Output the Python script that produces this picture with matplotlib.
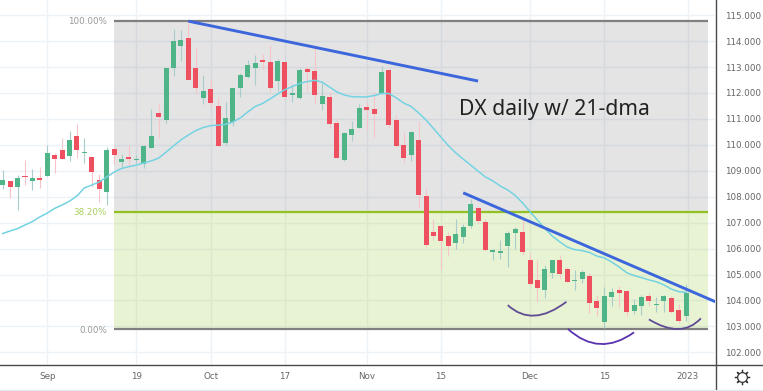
import matplotlib.pyplot as plt
from matplotlib.lines import Line2D
from matplotlib.patches import PathPatch
from matplotlib.path import Path

# daily DX bars, one entry per session
opens = [108.47, 108.59, 108.39, 108.81, 108.61, 108.73, 108.80, 109.61, 109.80, 109.58,
         110.33, 109.69, 109.52, 108.63, 108.20, 109.84, 109.33, 109.53, 109.40, 109.26,
         109.89, 111.23, 110.97, 112.98, 113.81, 114.12, 112.96, 111.79, 112.14, 111.51,
         110.06, 110.87, 112.19, 112.63, 112.98, 113.26, 113.18, 112.46, 113.18, 111.92,
         111.79, 112.91, 112.85, 111.59, 111.83, 110.86, 109.43, 110.38, 110.65, 111.45,
         111.37, 112.00, 112.87, 110.97, 109.98, 109.62, 110.19, 108.04, 106.65, 106.88,
         106.49, 106.20, 106.46, 106.87, 107.55, 107.03, 105.87, 105.84, 106.11, 106.59,
         106.65, 105.56, 104.78, 104.42, 105.07, 105.56, 105.23, 104.75, 104.83, 104.94,
         103.98, 103.18, 104.12, 104.40, 104.37, 103.61, 103.79, 104.19, 103.81, 103.98,
         104.08, 103.62, 103.40]
highs = [109.03, 108.62, 108.84, 109.42, 109.08, 109.13, 109.98, 109.67, 110.25, 110.53,
         110.79, 110.25, 109.52, 108.88, 109.90, 109.90, 109.63, 109.98, 109.61, 109.99,
         111.37, 111.58, 112.98, 114.45, 114.43, 114.75, 113.72, 112.69, 112.50, 111.83,
         111.67, 112.18, 112.76, 113.27, 113.46, 113.49, 113.85, 113.30, 113.18, 112.33,
         112.98, 113.04, 113.85, 112.37, 112.05, 111.02, 110.51, 110.93, 111.56, 111.67,
         112.03, 113.04, 112.95, 111.15, 110.51, 110.53, 110.88, 108.32, 107.13, 106.91,
         106.65, 107.13, 106.94, 107.90, 107.64, 107.13, 105.97, 106.33, 106.68, 106.85,
         107.10, 105.84, 105.56, 105.37, 105.56, 105.75, 105.30, 105.17, 105.17, 105.07,
         104.21, 104.51, 104.47, 104.56, 104.37, 104.04, 104.21, 104.27, 104.12, 104.21,
         104.19, 103.86, 104.64]
lows = [108.30, 107.94, 107.49, 108.45, 108.26, 108.32, 108.80, 108.93, 109.47, 109.37,
        109.49, 109.30, 108.39, 107.81, 107.68, 109.26, 109.16, 109.20, 109.29, 109.10,
        109.87, 110.25, 110.86, 112.66, 113.25, 112.49, 111.99, 111.56, 111.45, 109.97,
        109.99, 110.73, 111.86, 112.57, 112.31, 112.91, 112.05, 112.08, 111.86, 111.64,
        111.77, 112.08, 111.58, 111.34, 110.64, 109.48, 109.38, 110.15, 110.64, 110.57,
        110.28, 111.99, 110.64, 109.93, 109.29, 109.38, 107.62, 106.07, 106.33, 105.17,
        105.72, 105.97, 106.23, 106.81, 107.00, 105.92, 105.56, 105.60, 105.28, 105.98,
        105.75, 104.56, 103.95, 104.08, 104.85, 104.83, 104.73, 104.40, 104.66, 103.53,
        103.40, 102.92, 103.80, 103.76, 103.40, 103.48, 103.44, 103.80, 103.57, 103.57,
        103.53, 103.14, 103.22]
closes = [108.63, 108.39, 108.72, 108.77, 108.73, 108.65, 109.67, 109.47, 109.47, 110.19,
          109.82, 109.72, 108.95, 108.29, 109.80, 109.61, 109.46, 109.47, 109.46, 109.96,
          110.34, 111.07, 112.98, 114.00, 114.04, 112.49, 112.18, 112.06, 111.63, 109.97,
          111.02, 112.18, 112.68, 113.07, 113.14, 113.18, 112.21, 113.22, 111.86, 112.00,
          112.87, 112.81, 111.92, 111.88, 110.79, 109.51, 110.44, 110.60, 111.42, 111.36,
          111.20, 112.81, 110.77, 109.96, 109.51, 110.48, 108.05, 106.14, 106.50, 106.28,
          106.11, 106.58, 106.82, 107.72, 107.06, 105.93, 105.96, 105.91, 106.61, 106.74,
          105.87, 104.65, 104.47, 105.23, 105.55, 105.02, 104.73, 104.79, 105.09, 103.92,
          103.72, 104.19, 104.33, 104.29, 103.57, 103.84, 104.12, 103.98, 103.86, 104.19,
          103.57, 103.22, 104.29]
dma21 = [106.58, 106.68, 106.77, 106.91, 107.04, 107.22, 107.37, 107.55, 107.68, 107.83,
         108.03, 108.34, 108.45, 108.57, 108.76, 108.95, 109.09, 109.16, 109.22, 109.30,
         109.38, 109.49, 109.72, 109.96, 110.19, 110.38, 110.55, 110.67, 110.74, 110.76,
         110.79, 110.88, 111.04, 111.27, 111.48, 111.60, 111.77, 111.96, 112.13, 112.25,
         112.37, 112.44, 112.49, 112.42, 112.23, 112.04, 111.92, 111.86, 111.85, 111.85,
         111.90, 111.98, 111.98, 111.81, 111.61, 111.48, 111.23, 110.96, 110.63, 110.30,
         109.97, 109.69, 109.45, 109.22, 108.99, 108.76, 108.61, 108.41, 108.26, 108.05,
         107.76, 107.42, 107.10, 106.77, 106.48, 106.26, 106.06, 105.96, 105.92, 105.85,
         105.71, 105.64, 105.48, 105.29, 105.07, 104.96, 104.88, 104.79, 104.72, 104.60,
         104.44, 104.34, 104.31]

# x axis ticks sit on bar numbers
tick_bars = [6, 18, 28, 38, 49, 59, 71, 81, 92.2]
tick_names = ['Sep', '19', 'Oct', '17', 'Nov', '15', 'Dec', '15', '2023']
price_ticks = list(range(102, 116))

# fibonacci levels
fib_prices = [114.79, 107.42, 102.89]
fib_names = ['100.00%', '38.20%', '0.00%']
fib_start, fib_end = 15, 95

# hand drawn trend lines and arcs
trend1_bars, trend1_prices = [25, 64], [114.77, 112.46]
trend2_bars, trend2_prices = [62, 97], [108.15, 103.82]
arc1_bars, arc1_prices = [68.0, 71.3, 75.9], [103.82, 102.94, 103.95]
arc2_bars, arc2_prices = [76.1, 80.3, 85.0], [102.90, 101.80, 102.77]
arc3_bars, arc3_prices = [87.0, 91.4, 94.0], [103.27, 102.50, 103.31]

up_body, up_wick = '#4fb488', '#a9cdcd'
down_body, down_wick = '#ef5060', '#f9c3ca'
tick_col = '#666666'

fig = plt.figure(figsize=(7.63, 3.91), dpi=100)
ax = fig.add_axes([0, 26 / 391, 715 / 763, 365 / 391])
ax.set_xlim(-0.363, 95.9)
ax.set_ylim(101.51, 115.586)

ax.set_axisbelow(True)
ax.grid(True, color='#edf2f6', lw=1)
ax.set_xticks(tick_bars)
ax.set_xticklabels(tick_names, fontsize=6.3, color=tick_col)
ax.yaxis.tick_right()
ax.set_yticks(price_ticks)
ax.set_yticklabels(['%.3f' % p for p in price_ticks], fontsize=6.3, color=tick_col,
                   va='center_baseline')
ax.tick_params(length=0)
ax.tick_params(axis='x', pad=5)
ax.tick_params(axis='y', pad=7)
for side in ['top', 'left', 'bottom', 'right']:
    ax.spines[side].set_visible(False)

# fib zones
ax.fill_between([fib_start, fib_end], fib_prices[1], fib_prices[0], color='#808080', alpha=0.21, lw=0, zorder=1)
ax.fill_between([fib_start, fib_end], fib_prices[2], fib_prices[1], color='#96c832', alpha=0.21, lw=0, zorder=1)
ax.plot([fib_start, fib_end], [fib_prices[0]] * 2, color='#808080', lw=1.6, zorder=2, solid_capstyle='butt')
ax.plot([fib_start, fib_end], [fib_prices[1]] * 2, color='#93c022', lw=1.6, zorder=2, solid_capstyle='butt')
ax.plot([fib_start, fib_end], [fib_prices[2]] * 2, color='#808080', lw=1.6, zorder=2, solid_capstyle='butt')
for price, name, col in zip(fib_prices, fib_names, ['#999999', '#a9d05c', '#999999']):
    ax.text(14.05, price, name, ha='right', va='center_baseline', fontsize=6.3, color=col)

# candles
for i in range(len(opens)):
    is_up = closes[i] >= opens[i]
    ax.vlines(i, lows[i], highs[i], color=up_wick if is_up else down_wick, lw=0.8, zorder=3)
    ax.bar(i, abs(closes[i] - opens[i]), bottom=min(opens[i], closes[i]), width=0.68,
           color=up_body if is_up else down_body, lw=0, zorder=4)

ax.plot(range(len(dma21)), dma21, color='#74d3e2', lw=1.1, zorder=5)

ax.plot(trend1_bars, trend1_prices, color='#3c66dc', lw=2.1, zorder=6, solid_capstyle='butt')
ax.plot(trend2_bars, trend2_prices, color='#3c66dc', lw=2.1, zorder=6, solid_capstyle='butt')

# the three little arcs under the lows
for bars, prices, col in [(arc1_bars, arc1_prices, '#5f4c94'),
                          (arc2_bars, arc2_prices, '#5a32ae'),
                          (arc3_bars, arc3_prices, '#5f4c94')]:
    arc = Path(list(zip(bars, prices)), [Path.MOVETO, Path.CURVE3, Path.CURVE3])
    ax.add_patch(PathPatch(arc, fill=False, edgecolor=col, lw=1.3, zorder=6))

ax.text(61.5, 111.38, 'DX daily w/ 21-dma', fontsize=15.2, family='Noto Sans',
        color='#222222', ha='left', va='center', zorder=7)

# frame around the price and time scales
fig.add_artist(Line2D([0, 1], [26 / 391, 26 / 391], color='#4a4a4a', lw=1))
fig.add_artist(Line2D([715.5 / 763, 715.5 / 763], [2 / 391, 1], color='#4a4a4a', lw=1))
fig.add_artist(Line2D([0, 1], [0.5 / 391, 0.5 / 391], color='#e6e6ee', lw=1.5))

# settings icon
fig.add_artist(Line2D([742 / 763], [14 / 391], marker=(8, 2, 0), ms=11, mew=0.9, color='#333333'))
fig.add_artist(Line2D([742 / 763], [14 / 391], marker='o', ms=7, mew=0.9, mfc='white', mec='#333333'))

plt.savefig('out.png', dpi=100)
